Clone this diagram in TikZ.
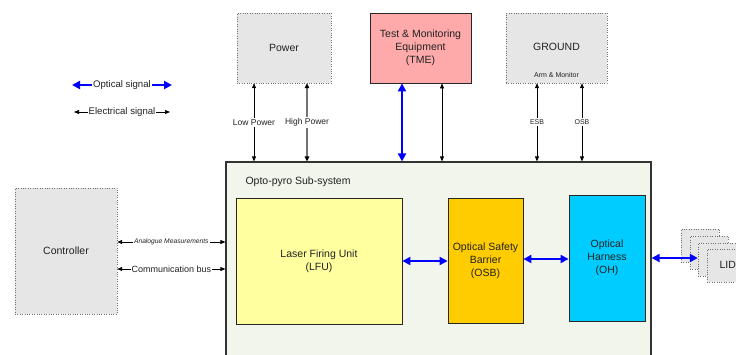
\documentclass[tikz,border=0pt]{standalone}
\usepackage{fontspec}
\setmainfont{Liberation Sans}
\usetikzlibrary{arrows.meta}
\definecolor{txt}{HTML}{222222}
\definecolor{grayfill}{HTML}{E6E6E6}
\definecolor{grayline}{HTML}{707070}
\definecolor{subfill}{HTML}{F2F5EB}
\definecolor{tmefill}{HTML}{FFAAAA}
\definecolor{lfufill}{HTML}{FFFFA0}
\definecolor{osbfill}{HTML}{FFCC00}
\definecolor{ohfill}{HTML}{00CCFF}
\definecolor{optblue}{HTML}{0000FF}
\tikzset{
  big/.style={font=\fontsize{10.5}{13}\selectfont, text=txt, align=center},
  small/.style={font=\fontsize{8.5}{10}\selectfont, text=txt},
  tiny/.style={font=\fontsize{7}{9}\selectfont, text=txt},
  graybox/.style={draw=grayline, dotted, fill=grayfill, inner sep=0pt},
  solidbox/.style={draw=black!85, line width=0.8pt, inner sep=0pt, align=center},
  elec/.style={draw=black, line width=0.7pt, {Triangle[length=5pt,width=4pt]}-{Triangle[length=5pt,width=4pt]}},
  elecgray/.style={draw=black!55, line width=1.3pt, {Triangle[length=5pt,width=4.5pt,black]}-{Triangle[length=5pt,width=4.5pt,black]}},
  opt/.style={draw=optblue, line width=2.2pt, {Triangle[length=8pt,width=8pt]}-{Triangle[length=8pt,width=8pt]}},
  lbl/.style={fill=white, inner sep=1.5pt},
}
\begin{document}
\begin{tikzpicture}[x=1pt,y=-1pt]
\clip (0,0) rectangle (736,354);
\fill[white] (0,0) rectangle (736,354);

% top boxes
\node[graybox, minimum width=94pt, minimum height=70pt] (power) at (284,48) {};
\node[big] (powert) at (power) {Power};
\node[solidbox, fill=tmefill, minimum width=101pt, minimum height=70pt, big] (tme) at (420.5,48) {Test \& Monitoring\\Equipment\\(TME)};
\node[graybox, minimum width=101pt, minimum height=70pt] (ground) at (556.5,48) {};
\node[big] (groundt) at (556.5,47) {GROUND};
\node[tiny] (armt) at (556.5,75) {Arm \& Monitor};

% subsystem
\node[draw=black!80, line width=1.2pt, fill=subfill, minimum width=425pt, minimum height=210pt, inner sep=0pt] (sub) at (438.5,267) {};
\node[big, anchor=west] (subt) at (242,182) {Opto-pyro Sub-system};

\node[solidbox, fill=lfufill, minimum width=166pt, minimum height=126pt, big] (lfu) at (319,261) {Laser Firing Unit\\(LFU)};
\node[solidbox, fill=osbfill, minimum width=75pt, minimum height=125pt, big] (osb) at (485.5,260.5) {Optical Safety\\Barrier\\(OSB)};
\node[solidbox, fill=ohfill, minimum width=76pt, minimum height=126pt, big] (oh) at (607,258) {Optical\\Harness\\(OH)};

% controller
\node[graybox, minimum width=102pt, minimum height=126pt] (ctrl) at (66,251) {};
\node[big] (ctrlt) at (ctrl) {Controller};

% LID stack
\node[graybox, minimum width=38pt, minimum height=33pt] (lid1) at (700,245.5) {};
\node[graybox, minimum width=38pt, minimum height=33pt] (lid2) at (709,252.5) {};
\node[graybox, minimum width=38pt, minimum height=33pt] (lid3) at (717,259.5) {};
\node[graybox, minimum width=38pt, minimum height=33pt] (lid4) at (726,265.5) {};
\node[big, anchor=west] (lidt) at (716,265) {LID};

% vertical connectors
\draw[elec] ([xshift=-30pt]power.south) -- ([xshift=-30pt]power.south |- sub.north)
  node[pos=0.5, lbl, small] {Low Power};
\draw[elecgray] ([xshift=23pt]power.south) -- ([xshift=23pt]power.south |- sub.north)
  node[pos=0.5, lbl, small] {High Power};
\draw[opt] ([xshift=-18.5pt]tme.south) -- ([xshift=-18.5pt]tme.south |- sub.north);
\draw[elec] ([xshift=21.5pt]tme.south) -- ([xshift=21.5pt]tme.south |- sub.north);
\draw[elec] ([xshift=-19.5pt]ground.south) -- ([xshift=-19.5pt]ground.south |- sub.north)
  node[pos=0.5, lbl, tiny] {ESB};
\draw[elec] ([xshift=25.5pt]ground.south) -- ([xshift=25.5pt]ground.south |- sub.north)
  node[pos=0.5, lbl, tiny] {OSB};

% controller connectors
\draw[elec] ([yshift=9pt]ctrl.east) -- ([yshift=9pt]ctrl.east -| sub.west)
  node[pos=0.5, lbl, inner sep=1pt, font=\fontsize{6.7}{8}\selectfont\itshape, text=txt] {Analogue Measurements};
\draw[elec] ([yshift=-18pt]ctrl.east) -- ([yshift=-18pt]ctrl.east -| sub.west)
  node[pos=0.5, lbl, inner sep=1pt, font=\fontsize{9}{11}\selectfont, text=txt] {Communication bus};

% optical links
\draw[opt] (lfu.east) -- (lfu.east -| osb.west);
\draw[opt] ([yshift=1.5pt]osb.east) -- ([yshift=1.5pt]osb.east -| oh.west);
\draw[opt] (sub.east |- oh.east) -- (oh.east -| lid3.west);

% legend
\coordinate (oa) at (72,85);
\coordinate (ob) at (172,85);
\coordinate (ea) at (74,112);
\coordinate (eb) at (170,112);
\draw[opt] (oa) -- (ob) node[pos=0.5, lbl, inner sep=1pt, font=\fontsize{9.6}{11}\selectfont, text=txt] {Optical signal};
\draw[elec] (ea) -- (eb) node[pos=0.5, lbl, inner sep=1pt, font=\fontsize{9.6}{11}\selectfont, text=txt] {Electrical signal};
\end{tikzpicture}
\end{document}
